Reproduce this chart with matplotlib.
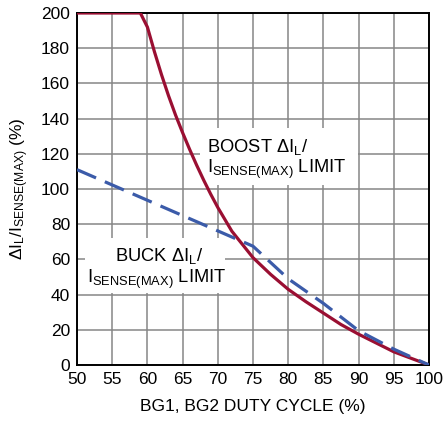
import matplotlib
matplotlib.use('Agg')
import matplotlib.pyplot as plt
from matplotlib.patches import Rectangle

# data
boost_x = [50, 55, 59, 60, 61, 62, 63, 64, 65, 66, 67, 68, 69, 70, 72, 75, 77.5, 80, 82.5, 85, 87.5, 90, 95, 100]
boost_y = [200, 200, 200, 192, 178, 165, 153, 142, 132, 122.5, 113.5, 105, 97, 89.5, 76, 61, 51.5, 43, 36, 29.5, 23, 17.5, 7.5, 0]
buck_x = [50, 75, 80, 85, 90, 95, 100]
buck_y = [111, 67.5, 49, 35, 19.5, 9, 0]
xticks = [50, 55, 60, 65, 70, 75, 80, 85, 90, 95, 100]
yticks = [0, 20, 40, 60, 80, 100, 120, 140, 160, 180, 200]

fnt = 'Liberation Sans'
plt.rcParams['font.family'] = [fnt, 'DejaVu Sans']
plt.rcParams['mathtext.fontset'] = 'custom'
plt.rcParams['mathtext.rm'] = fnt
plt.rcParams['mathtext.it'] = fnt
plt.rcParams['mathtext.default'] = 'rm'
fs = 12.5
fl = 13.2   # labels inside the plot

fig = plt.figure(figsize=(4.44, 4.26), dpi=100)
ax = fig.add_axes([77/444, 61/426, 352/444, 352/426])

ax.plot(boost_x, boost_y, color='#9a0f32', lw=2.3, zorder=4, solid_capstyle='butt')
ax.plot(buck_x, buck_y, color='#3b5ba9', lw=2.3, dashes=(6.5, 3), zorder=5)

ax.set_xlim(50, 100)
ax.set_ylim(0, 200)
ax.set_xticks(xticks)
ax.set_yticks(yticks)
ax.tick_params(length=0, labelsize=fs, pad=5)
ax.grid(True, color='#868686', lw=1.1)
ax.set_axisbelow(True)
for s in ax.spines.values():
    s.set_linewidth(1.4)

ax.set_xlabel('BG1, BG2 DUTY CYCLE (%)', fontsize=fs, labelpad=9)
ax.set_ylabel(r'$\Delta$I$_L$/I$_{SENSE(MAX)}$ (%)', fontsize=fs, labelpad=7)

# white boxes behind the labels
ax.add_patch(Rectangle((67.5, 102.3), 22.4, 32.4, facecolor='white', edgecolor='none', zorder=2))
ax.add_patch(Rectangle((51.1, 40.9), 19.9, 31.3, facecolor='white', edgecolor='none', zorder=2))

ax.text(68.4, 120.8, r'BOOST $\Delta$I$_L$/', fontsize=fl, va='baseline', zorder=3)
ax.text(68.4, 108.9, r'I$_{SENSE(MAX)}$ LIMIT', fontsize=fl, va='baseline', zorder=3)
ax.text(55.4, 59.3, r'BUCK $\Delta$I$_L$/', fontsize=fl, va='baseline', zorder=3)
ax.text(51.4, 46.4, r'I$_{SENSE(MAX)}$ LIMIT', fontsize=fl, va='baseline', zorder=3)

fig.savefig('out.png', dpi=100)
